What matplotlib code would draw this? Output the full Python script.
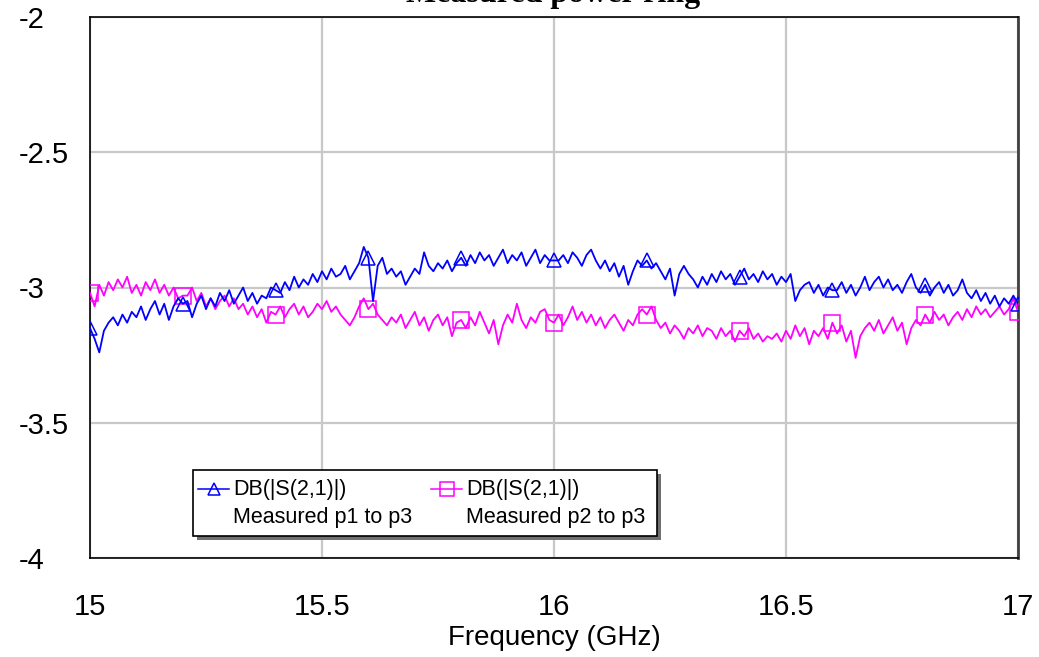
"""Measured power ring: S21 from p1/p2 to p3."""

import numpy as np
import matplotlib
matplotlib.use("Agg")
import matplotlib.pyplot as plt
from matplotlib.patches import Rectangle
from matplotlib.lines import Line2D

# frequency grid, 15 to 17 GHz in 0.01 GHz steps
freq_start = 15.0
freq_step = 0.01

# DB(|S(2,1)|) measured p1 to p3
s21_p1_p3 = [
    -3.15, -3.19, -3.24, -3.16, -3.13, -3.11, -3.14, -3.10, -3.13, -3.09,
    -3.11, -3.07, -3.12, -3.08, -3.05, -3.10, -3.06, -3.12, -3.07, -3.04,
    -3.06, -3.05, -3.11, -3.06, -3.03, -3.08, -3.04, -3.07, -3.02, -3.05,
    -3.01, -3.06, -3.03, -3.00, -3.05, -3.02, -3.06, -3.03, -3.04, -3.00,
    -3.01, -3.02, -2.98, -3.01, -2.96, -3.00, -2.97, -2.99, -2.95, -2.98,
    -2.94, -2.97, -2.93, -2.96, -2.95, -2.92, -2.97, -2.94, -2.91, -2.85,
    -2.89, -3.05, -2.92, -2.89, -2.95, -2.93, -2.96, -2.94, -2.99, -2.96,
    -2.93, -2.95, -2.87, -2.92, -2.94, -2.91, -2.93, -2.90, -2.94, -2.91,
    -2.89, -2.92, -2.88, -2.91, -2.87, -2.90, -2.88, -2.92, -2.89, -2.86,
    -2.91, -2.88, -2.90, -2.87, -2.92, -2.89, -2.86, -2.91, -2.88, -2.90,
    -2.90, -2.90, -2.88, -2.91, -2.87, -2.89, -2.92, -2.88, -2.86, -2.90,
    -2.93, -2.90, -2.94, -2.91, -2.96, -2.92, -2.99, -2.94, -2.90, -2.92,
    -2.90, -2.93, -2.91, -2.94, -2.97, -2.93, -3.03, -2.95, -2.92, -2.95,
    -2.97, -3.00, -2.96, -2.99, -2.95, -2.98, -2.94, -2.97, -2.95, -2.99,
    -2.96, -2.93, -2.97, -2.95, -2.98, -2.94, -2.97, -2.95, -2.99, -2.96,
    -2.98, -2.95, -3.05, -3.01, -2.99, -2.98, -3.02, -2.99, -3.03, -3.00,
    -3.01, -3.01, -2.98, -3.02, -2.99, -3.03, -3.00, -2.96, -3.01, -2.98,
    -2.96, -3.00, -2.97, -3.01, -2.99, -3.02, -2.98, -2.95, -3.00, -3.02,
    -2.99, -3.03, -3.00, -2.98, -3.02, -2.99, -3.03, -3.01, -2.97, -3.02,
    -3.04, -3.01, -3.05, -3.02, -3.06, -3.03, -3.07, -3.04, -3.06, -3.03,
    -3.06,
]

# DB(|S(2,1)|) measured p2 to p3
s21_p2_p3 = [
    -3.02, -3.07, -2.99, -3.03, -2.98, -3.01, -2.97, -3.00, -2.96, -3.02,
    -2.99, -3.03, -2.98, -3.01, -2.97, -3.02, -2.99, -3.03, -3.00, -3.04,
    -3.03, -3.03, -3.00, -3.05, -3.02, -3.07, -3.04, -3.08, -3.05, -3.03,
    -3.07, -3.04, -3.08, -3.06, -3.10, -3.07, -3.11, -3.08, -3.13, -3.09,
    -3.10, -3.07, -3.11, -3.08, -3.06, -3.10, -3.07, -3.11, -3.09, -3.06,
    -3.08, -3.05, -3.09, -3.07, -3.10, -3.12, -3.14, -3.11, -3.07, -3.04,
    -3.08, -3.06, -3.10, -3.12, -3.14, -3.11, -3.13, -3.10, -3.15, -3.12,
    -3.09, -3.14, -3.11, -3.16, -3.12, -3.10, -3.14, -3.11, -3.18, -3.13,
    -3.12, -3.15, -3.11, -3.14, -3.09, -3.13, -3.17, -3.12, -3.21, -3.14,
    -3.10, -3.13, -3.06, -3.12, -3.15, -3.11, -3.13, -3.09, -3.08, -3.12,
    -3.13, -3.10, -3.14, -3.11, -3.07, -3.12, -3.09, -3.13, -3.10, -3.14,
    -3.11, -3.15, -3.12, -3.10, -3.13, -3.16, -3.12, -3.14, -3.10, -3.08,
    -3.10, -3.07, -3.12, -3.15, -3.13, -3.17, -3.14, -3.16, -3.19, -3.15,
    -3.17, -3.14, -3.18, -3.15, -3.16, -3.19, -3.15, -3.18, -3.16, -3.20,
    -3.16, -3.18, -3.15, -3.19, -3.17, -3.20, -3.18, -3.19, -3.17, -3.20,
    -3.16, -3.19, -3.14, -3.18, -3.15, -3.21, -3.16, -3.18, -3.15, -3.19,
    -3.13, -3.17, -3.14, -3.20, -3.16, -3.26, -3.18, -3.15, -3.13, -3.16,
    -3.12, -3.17, -3.14, -3.11, -3.16, -3.13, -3.21, -3.15, -3.12, -3.14,
    -3.10, -3.13, -3.09, -3.12, -3.10, -3.14, -3.11, -3.09, -3.12, -3.08,
    -3.11, -3.07, -3.10, -3.08, -3.11, -3.09, -3.07, -3.10, -3.08, -3.04,
    -3.09,
]

x_ticks = [15, 15.5, 16, 16.5, 17]
x_tick_labels = ["15", "15.5", "16", "16.5", "17"]
y_ticks = [-4, -3.5, -3, -2.5, -2]
y_tick_labels = ["-4", "-3.5", "-3", "-2.5", "-2"]

title = "Measured power ring"
x_label = "Frequency (GHz)"
legend_title = "DB(|S(2,1)|)"
label_1 = "Measured p1 to p3"
label_2 = "Measured p2 to p3"

color_1 = "#0000ff"
color_2 = "#ff00ff"

W, H = 1039, 657
plt.rcParams["font.family"] = ["Liberation Sans", "DejaVu Sans"]

fig = plt.figure(figsize=(W / 100, H / 100), dpi=100)
ax = fig.add_axes([90 / W, 1 - 558 / H, 928 / W, 541 / H])

freq = freq_start + freq_step * np.arange(len(s21_p1_p3))

ax.plot(freq, s21_p2_p3, color=color_2, lw=1.3, marker="s", markevery=20,
        markersize=11, markerfacecolor="none", markeredgewidth=1.1, zorder=3)
ax.plot(freq, s21_p1_p3, color=color_1, lw=1.3, marker="^", markevery=20,
        markersize=10, markerfacecolor="none", markeredgewidth=1.1, zorder=4)

ax.set_xlim(15, 17)
ax.set_ylim(-4, -2)
ax.set_xticks(x_ticks)
ax.set_xticklabels(x_tick_labels)
ax.set_yticks(y_ticks)
ax.set_yticklabels(y_tick_labels, ha="left")
ax.tick_params(axis="both", length=0, labelsize=21)
ax.tick_params(axis="y", pad=51)
ax.tick_params(axis="x", pad=25)
ax.grid(True, color="#c8c8c8", lw=1.6)
ax.set_axisbelow(True)

for side in ["left", "bottom", "top"]:
    ax.spines[side].set_color("black")
    ax.spines[side].set_linewidth(1.2)
ax.spines["right"].set_color("#404040")
ax.spines["right"].set_linewidth(2)

ax.set_xlabel(x_label, fontsize=20, labelpad=3)

# title is partly cut off by the top edge in the original
fig.text(553 / W, 1 - 2 / H, title, ha="center", va="baseline",
         fontsize=23, fontweight="bold", family="Liberation Serif")


# hand-drawn legend with drop shadow, positioned in pixels
def px(x, y):
    return (x / W, 1 - y / H)


shadow = Rectangle(px(197, 540), 464 / W, 66 / H, transform=fig.transFigure,
                   facecolor="#707070", edgecolor="none", zorder=5)
box = Rectangle(px(193, 536), 464 / W, 66 / H, transform=fig.transFigure,
                facecolor="white", edgecolor="black", lw=1.2, zorder=6)
fig.patches.extend([shadow, box])

for x0, color, marker, ms, label in [
    (198, color_1, "^", 8, label_1),
    (431, color_2, "s", 10, label_2),
]:
    xs, ys = zip(px(x0, 489), px(x0 + 31, 489))
    fig.lines.append(Line2D(xs, ys, transform=fig.transFigure, color=color, lw=1.1, zorder=7))
    mx, my = px(x0 + 16, 489)
    fig.lines.append(Line2D([mx], [my], transform=fig.transFigure, color=color,
                            marker=marker, markersize=ms, markerfacecolor="none",
                            markeredgewidth=1.1, zorder=7))
    tx, ty = px(x0 + 35, 489)
    fig.text(tx, ty, legend_title, ha="left", va="center", fontsize=15.5, zorder=8)
    tx, ty = px(x0 + 35, 517)
    fig.text(tx, ty, label, ha="left", va="center", fontsize=15.5, zorder=8)

fig.savefig("out.png", dpi=100)
